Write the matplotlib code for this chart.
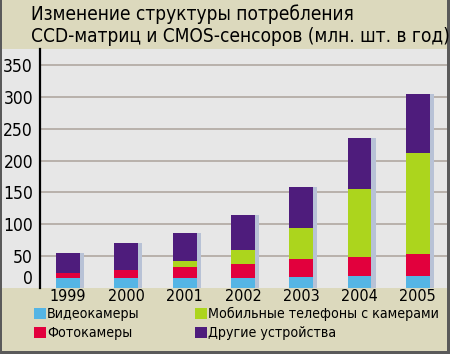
import matplotlib
matplotlib.use("Agg")
import matplotlib.pyplot as plt
from matplotlib.patches import Rectangle
import numpy as np

plt.rcParams['font.family'] = ['DejaVu Sans']
plt.rcParams['font.stretch'] = 'condensed'

years = ['1999', '2000', '2001', '2002', '2003', '2004', '2005']
video = [15, 15, 15, 15.5, 16.5, 17.5, 17.5]
photo = [8, 12.5, 17, 21, 28.5, 31, 35]
mobile = [0, 0, 9, 23, 49, 107, 160]
other = [32, 42, 45, 55, 64, 80, 93]

series = [video, photo, mobile, other]
labels = ['Видеокамеры', 'Фотокамеры', 'Мобильные телефоны с камерами', 'Другие устройства']
colors = ['#55b5e5', '#e2003d', '#acd51d', '#4e1c7c']
yticks = [0, 50, 100, 150, 200, 250, 300, 350]

W, H = 450, 354
fig = plt.figure(figsize=(4.5, 3.54), dpi=100)
fig.patch.set_facecolor('#dcd9bd')


def fx(px):
    return px / W


def fy(py):
    return 1 - py / H


# grey plot band
fig.patches.append(Rectangle((fx(2), fy(288)), fx(445), 239 / H, transform=fig.transFigure,
                             facecolor='#e7e7e7', edgecolor='none', zorder=0))
# dark frame (left, right, bottom)
for x0, y0, w, h in [(0, 0, 2, 354), (447, 0, 3, 354), (0, 351, 450, 3)]:
    fig.patches.append(Rectangle((fx(x0), fy(y0 + h)), w / W, h / H, transform=fig.transFigure,
                                 facecolor='#5a5a5a', edgecolor='none', zorder=1))

ax = fig.add_axes([fx(40), fy(287.5), fx(447) - fx(40), (287.5 - 49) / H])
ax.set_zorder(5)
ax.set_facecolor('none')

x = np.arange(len(years))
bw = 0.41
total = np.sum(series, axis=0)

# shadows
ax.bar(x + 0.07, total, width=bw, color='#b8c2d6', zorder=2)

bottom = np.zeros(len(years))
for vals, c in zip(series, colors):
    ax.bar(x, vals, width=bw, bottom=bottom, color=c, zorder=3)
    bottom += np.array(vals)

ax.set_xlim(-0.48, 6.5)
ax.set_ylim(0, 376)
ax.set_yticks(yticks)
for t in yticks[1:]:
    ax.axhline(t, color='#b5ada6', lw=1.3, zorder=1)

ax.set_xticks(x)
ax.set_xticklabels(years, fontsize=11.5)
ax.set_yticklabels([str(t) for t in yticks], fontsize=12.5)
ax.tick_params(length=0, pad=5)
ax.tick_params(axis='x', pad=1)
ax.get_yticklabels()[0].set_va('bottom')

for s in ['top', 'right', 'bottom']:
    ax.spines[s].set_visible(False)
ax.spines['left'].set_linewidth(1.6)
ax.spines['left'].set_color('black')

# title
fig.text(fx(31), fy(20), 'Изменение структуры потребления', fontsize=13.7, va='baseline')
fig.text(fx(31), fy(42), 'CCD-матриц и CMOS-сенсоров (млн. шт. в год)', fontsize=13.7, va='baseline')

# legend
pos = [(34, 308), (34, 327), (195, 308), (195, 327)]
for (lx, ly), lab, c in zip(pos, labels, colors):
    fig.patches.append(Rectangle((fx(lx), fy(ly + 11)), 12 / W, 11 / H, transform=fig.transFigure,
                                 facecolor=c, edgecolor='none', zorder=2))
    fig.text(fx(lx + 13), fy(ly + 6), lab, fontsize=10.2, va='center')

fig.savefig('out.png', dpi=100, facecolor=fig.get_facecolor())
